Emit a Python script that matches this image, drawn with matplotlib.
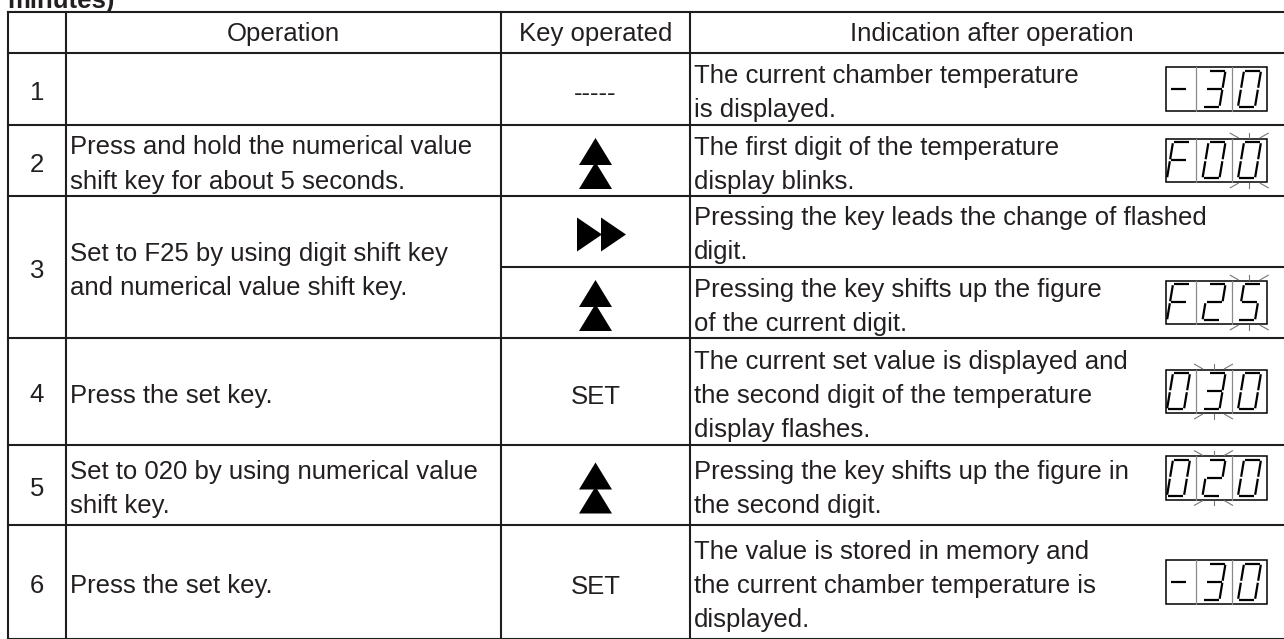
import matplotlib
matplotlib.use("Agg")
import matplotlib.pyplot as plt
from matplotlib.patches import Polygon, Rectangle

# table content
row_numbers = ["1", "2", "3", "4", "5", "6"]
operations = [
    [],
    ["Press and hold the numerical value", "shift key for about 5 seconds."],
    ["Set to F25 by using digit shift key", "and numerical value shift key."],
    ["Press the set key."],
    ["Set to 020 by using numerical value", "shift key."],
    ["Press the set key."],
]
# one entry per sub-row (row 3 is split in two on the right side)
keys = ["-----", "up", "ff", "up", "SET", "up", "SET"]
indications = [
    ["The current chamber temperature", "is displayed."],
    ["The first digit of the temperature", "display blinks."],
    ["Pressing the key leads the change of flashed", "digit."],
    ["Pressing the key shifts up the figure", "of the current digit."],
    ["The current set value is displayed and", "the second digit of the temperature", "display flashes."],
    ["Pressing the key shifts up the figure in", "the second digit."],
    ["The value is stored in memory and", "the current chamber temperature is", "displayed."],
]
displays = ["-30", "F00", "", "F25", "030", "020", "-30"]
flash_digit = [None, 2, None, 2, 1, 1, None]
headers = ["", "Operation", "Key operated", "Indication after operation"]
title = "minutes)"

# layout in pixels
W, H = 1284, 639
col_x = [8, 66, 501, 690, 1294]
header_top, header_bot = 12, 53
sub_edges = [53, 125, 196, 267, 338, 445, 525, 639]
row_span = [(0, 1), (1, 2), (2, 4), (4, 5), (5, 6), (6, 7)]
line_gap = 34
fs = 18.5
txt_col = "#231f20"
line_col = "#1e1e1e"

plt.rcParams['font.family'] = ['Liberation Sans', 'DejaVu Sans']

fig = plt.figure(figsize=(W / 100, H / 100), dpi=100)
ax = fig.add_axes([0, 0, 1, 1])
ax.set_xlim(0, W)
ax.set_ylim(H, 0)
ax.axis('off')


def put_lines(lines, x, yc, ha='left'):
    n = len(lines)
    for i, s in enumerate(lines):
        y = yc + (i - (n - 1) / 2) * line_gap
        ax.text(x, y + 9, s, ha=ha, va='baseline', fontsize=fs, color=txt_col)


SEGS = {'0': 'abcdef', '2': 'abged', '3': 'abgcd', '5': 'afgcd', 'F': 'afge', '-': 'g'}


def seven_seg(ch, x0, yb, w=17, h=36, s=6, gap=1.0):
    yt, ym = yb - h, yb - h / 2
    P = {'BL': (x0, yb), 'BR': (x0 + w, yb), 'TL': (x0 + s, yt), 'TR': (x0 + s + w, yt),
         'ML': (x0 + s / 2, ym), 'MR': (x0 + s / 2 + w, ym)}
    ends = {'a': ('TL', 'TR'), 'b': ('TR', 'MR'), 'c': ('MR', 'BR'), 'd': ('BL', 'BR'),
            'e': ('ML', 'BL'), 'f': ('TL', 'ML'), 'g': ('ML', 'MR')}
    for seg in SEGS.get(ch, ''):
        (xa, ya), (xb, yb2) = P[ends[seg][0]], P[ends[seg][1]]
        dx, dy = xb - xa, yb2 - ya
        L = (dx ** 2 + dy ** 2) ** 0.5
        ux, uy = dx / L * gap, dy / L * gap
        ax.plot([xa + ux, xb - ux], [ya + uy, yb2 - uy], color='black', lw=1.6,
                solid_capstyle='butt')


def display(text, yc, flash):
    left, top, bw, bh = 1166, yc - 21.75, 101, 43.5
    cells = [(1166, 1195.5), (1195.5, 1231.5), (1231.5, 1267)]
    ax.add_patch(Rectangle((left, top), bw, bh, fill=False, ec='black', lw=1.1))
    for xd in (1195.5, 1231.5):
        ax.plot([xd, xd], [top, top + bh], color='#8a8a8a', lw=0.9)
    for i, ch in enumerate(text):
        seven_seg(ch, 1167 + i * 35.5, top + 39.5)
    if flash is not None:
        cx = sum(cells[flash]) / 2
        for sgn, edge in ((-1, top), (1, top + bh)):
            e1, e2 = edge + sgn * 1, edge + sgn * 5.5
            ax.plot([cx, cx], [e1, e2], color='#777777', lw=0.8)
            ax.plot([cx - 11, cx - 19], [e1, e2], color='#777777', lw=0.8)
            ax.plot([cx + 11, cx + 19], [e1, e2], color='#777777', lw=0.8)


def key_icon(kind, cx, yc):
    if kind == 'up':
        for off in (0, 24):
            top = yc - 25.5 + off
            ax.add_patch(Polygon([(cx, top), (cx + 16.5, top + 27), (cx - 16.5, top + 27)],
                                 closed=True, fc='black', ec='none'))
    elif kind == 'ff':
        for x0 in (cx - 18.5, cx + 5.5):
            ax.add_patch(Polygon([(x0, yc - 17), (x0 + 25, yc), (x0, yc + 17)],
                                 closed=True, fc='black', ec='none'))
    else:
        ax.text(cx, yc + 9, kind, ha='center', va='baseline', fontsize=fs, color=txt_col)


# title fragment cut at the top
ax.text(7, 8, title, ha='left', va='baseline', fontsize=fs, fontweight='bold', color=txt_col)

# grid lines
ax.plot([col_x[0], W], [header_top, header_top], color=line_col, lw=1.5)
ax.plot([col_x[0], W], [header_bot, header_bot], color=line_col, lw=1.5)
main_edges = {sub_edges[a] for a, b in row_span} | {sub_edges[-1]}
for y in sub_edges[1:]:
    x_start = col_x[0] if y in main_edges else col_x[2]
    ax.plot([x_start, W], [y, y], color=line_col, lw=1.5)
for x in col_x[:4]:
    ax.plot([x, x], [header_top, H], color=line_col, lw=1.5)

# header
for j, htxt in enumerate(headers):
    if htxt:
        ax.text((col_x[j] + col_x[j + 1]) / 2, (header_top + header_bot) / 2 + 9, htxt,
                ha='center', va='baseline', fontsize=fs, color=txt_col)

# main rows
for r, (a, b) in enumerate(row_span):
    yc = (sub_edges[a] + sub_edges[b]) / 2 + 2
    put_lines([row_numbers[r]], (col_x[0] + col_x[1]) / 2, yc, ha='center')
    put_lines(operations[r], col_x[1] + 4, yc)

# sub rows
key_cx = (col_x[2] + col_x[3]) / 2
disp_shift = [0, 0, 0, 0, 0, -7, 0]
for k in range(len(keys)):
    yc = (sub_edges[k] + sub_edges[k + 1]) / 2
    key_icon(keys[k], key_cx, yc + 3)
    put_lines(indications[k], col_x[2 + 1] + 4, yc + 2)
    if displays[k]:
        display(displays[k], yc + disp_shift[k], flash_digit[k])

fig.savefig("out.png", dpi=100)
